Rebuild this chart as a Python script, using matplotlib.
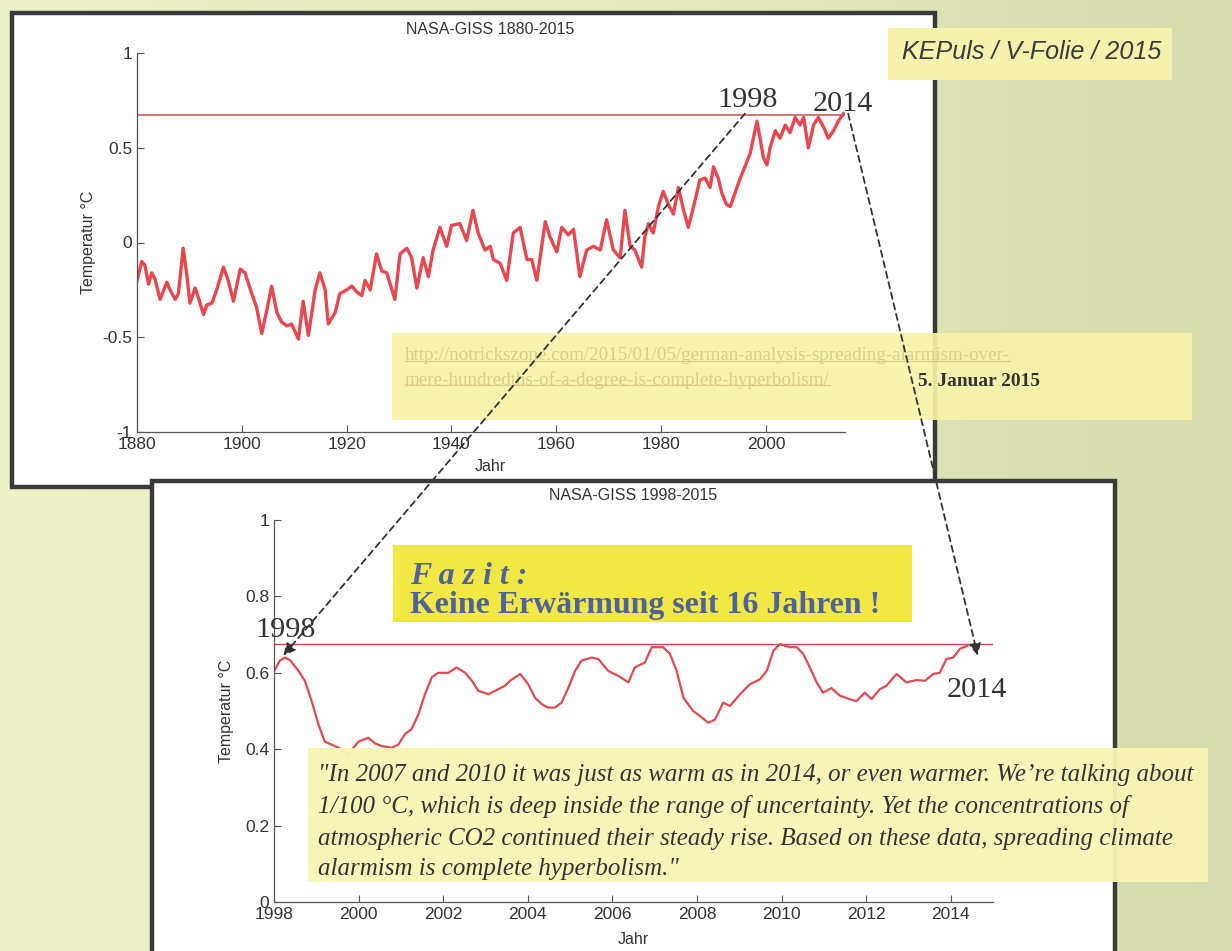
import numpy as np
import matplotlib
matplotlib.use("Agg")
import matplotlib.pyplot as plt
from matplotlib.patches import Rectangle, ConnectionPatch
from matplotlib.lines import Line2D
from matplotlib.colors import LinearSegmentedColormap

W, H, DPI = 1232, 951, 100

# ---------------- data ----------------
years_long = [1880.0, 1880.9, 1881.5, 1882.2, 1882.8, 1883.4, 1884.4, 1885.7, 1886.3, 1887.3,
              1887.9, 1888.8, 1889.5, 1890.1, 1891.1, 1891.7, 1892.7, 1893.3, 1894.3, 1895.2,
              1896.5, 1897.4, 1898.4, 1899.7, 1900.6, 1901.9, 1902.8, 1903.8, 1904.75, 1905.7,
              1906.7, 1907.6, 1908.6, 1909.5, 1910.8, 1911.7, 1912.7, 1914.0, 1914.9, 1915.9,
              1916.5, 1917.8, 1918.7, 1920.0, 1921.0, 1921.9, 1922.9, 1923.5, 1924.5, 1925.7,
              1926.7, 1927.65, 1929.2, 1930.2, 1931.5, 1932.4, 1933.4, 1934.6, 1935.6, 1936.5,
              1937.8, 1939.1, 1940.0, 1941.6, 1942.9, 1944.1, 1945.1, 1946.4, 1947.4, 1948.0,
              1949.3, 1950.55, 1951.8, 1953.1, 1954.4, 1955.3, 1956.3, 1957.9, 1958.8, 1960.1,
              1961.05, 1962.3, 1963.3, 1964.5, 1965.8, 1967.1, 1968.4, 1969.6, 1970.9, 1972.2,
              1973.1, 1974.1, 1975.0, 1976.3, 1976.9, 1977.6, 1978.5, 1979.5, 1980.4, 1981.4,
              1982.35, 1983.3, 1984.3, 1985.2, 1986.2, 1987.4, 1988.4, 1989.35, 1990.0, 1990.9,
              1991.6, 1992.5, 1993.2, 1994.1, 1995.1, 1996.0, 1997.0, 1998.3, 1998.9, 1999.5,
              2000.2, 2000.8, 2001.8, 2002.7, 2003.7, 2004.6, 2005.6, 2006.5, 2007.2, 2008.1,
              2009.1, 2010.0, 2011.0, 2011.9, 2012.9, 2013.8, 2014.8]
temp_long = [-0.20, -0.10, -0.12, -0.22, -0.16, -0.19, -0.30, -0.21, -0.25, -0.30,
             -0.27, -0.03, -0.17, -0.32, -0.24, -0.29, -0.38, -0.33, -0.32, -0.25,
             -0.13, -0.20, -0.31, -0.14, -0.16, -0.27, -0.34, -0.48, -0.36, -0.23,
             -0.37, -0.42, -0.44, -0.43, -0.51, -0.31, -0.49, -0.25, -0.16, -0.25,
             -0.43, -0.37, -0.27, -0.25, -0.23, -0.26, -0.28, -0.20, -0.25, -0.06,
             -0.15, -0.16, -0.30, -0.06, -0.03, -0.08, -0.24, -0.08, -0.18, -0.04,
             0.08, -0.02, 0.09, 0.10, 0.01, 0.17, 0.05, -0.04, -0.02, -0.09,
             -0.11, -0.20, 0.05, 0.08, -0.09, -0.09, -0.20, 0.11, 0.03, -0.05,
             0.08, 0.04, 0.07, -0.18, -0.04, -0.02, -0.04, 0.12, -0.04, -0.08,
             0.17, -0.02, -0.04, -0.13, 0.03, 0.10, 0.05, 0.19, 0.27, 0.20,
             0.15, 0.29, 0.17, 0.08, 0.19, 0.33, 0.34, 0.29, 0.40, 0.34,
             0.26, 0.20, 0.19, 0.26, 0.34, 0.40, 0.47, 0.64, 0.55, 0.45,
             0.41, 0.50, 0.59, 0.55, 0.62, 0.58, 0.66, 0.62, 0.66, 0.50,
             0.62, 0.66, 0.61, 0.55, 0.59, 0.64, 0.68]

years_short = [1998.0, 1998.14, 1998.26, 1998.38, 1998.58, 1998.73, 1998.89, 1999.05, 1999.2, 1999.44,
               1999.6, 1999.75, 1999.85, 2000.0, 2000.23, 2000.39, 2000.55, 2000.78, 2000.94, 2001.1,
               2001.25, 2001.41, 2001.57, 2001.73, 2001.88, 2002.12, 2002.32, 2002.52, 2002.68, 2002.83,
               2003.07, 2003.3, 2003.46, 2003.58, 2003.82, 2004.01, 2004.17, 2004.33, 2004.48, 2004.64,
               2004.8, 2004.96, 2005.12, 2005.27, 2005.51, 2005.67, 2005.9, 2006.14, 2006.38, 2006.53,
               2006.77, 2006.93, 2007.2, 2007.36, 2007.52, 2007.68, 2007.91, 2008.07, 2008.27, 2008.43,
               2008.62, 2008.78, 2009.02, 2009.25, 2009.49, 2009.65, 2009.81, 2009.96, 2010.2, 2010.36,
               2010.51, 2010.67, 2010.83, 2010.98, 2011.18, 2011.38, 2011.61, 2011.77, 2011.97, 2012.13,
               2012.32, 2012.48, 2012.72, 2012.95, 2013.19, 2013.39, 2013.59, 2013.74, 2013.9, 2014.06,
               2014.22, 2014.4]
temp_short = [0.605, 0.632, 0.640, 0.633, 0.605, 0.579, 0.526, 0.465, 0.420, 0.408,
              0.400, 0.385, 0.400, 0.420, 0.430, 0.415, 0.408, 0.404, 0.412, 0.440,
              0.452, 0.490, 0.544, 0.588, 0.600, 0.600, 0.614, 0.600, 0.579, 0.553,
              0.544, 0.557, 0.566, 0.579, 0.597, 0.570, 0.535, 0.518, 0.509, 0.509,
              0.522, 0.561, 0.605, 0.632, 0.640, 0.636, 0.605, 0.592, 0.575, 0.614,
              0.627, 0.667, 0.667, 0.650, 0.605, 0.535, 0.500, 0.487, 0.469, 0.478,
              0.522, 0.513, 0.544, 0.570, 0.583, 0.605, 0.658, 0.675, 0.667, 0.667,
              0.650, 0.614, 0.575, 0.548, 0.560, 0.540, 0.531, 0.526, 0.548, 0.531,
              0.557, 0.566, 0.597, 0.575, 0.581, 0.579, 0.597, 0.600, 0.636, 0.640,
              0.663, 0.671]

ref_level = 0.675

top_xticks = [1880, 1900, 1920, 1940, 1960, 1980, 2000]
top_yticks = [-1, -0.5, 0, 0.5, 1]
top_yticklabels = ["-1", "-0.5", "0", "0.5", "1"]
bot_xticks = [1998, 2000, 2002, 2004, 2006, 2008, 2010, 2012, 2014]
bot_yticks = [0, 0.2, 0.4, 0.6, 0.8, 1]
bot_yticklabels = ["0", "0.2", "0.4", "0.6", "0.8", "1"]

title_top = "NASA-GISS 1880-2015"
title_bot = "NASA-GISS 1998-2015"
ylabel_txt = "Temperatur °C"
xlabel_txt = "Jahr"
source_tag = "KEPuls / V-Folie / 2015"
url_lines = ["http://notrickszone.com/2015/01/05/german-analysis-spreading-alarmism-over-",
             "mere-hundredths-of-a-degree-is-complete-hyperbolism/"]
url_date = "5. Januar 2015"
fazit_head = "F a z i t :"
fazit_text = "Keine Erwärmung seit 16 Jahren !"
quote_lines = ['"In 2007 and 2010 it was just as warm as in 2014, or even warmer. We\u2019re talking about',
               '1/100 °C, which is deep inside the range of uncertainty. Yet the concentrations of',
               'atmospheric CO2 continued their steady rise. Based on these data, spreading climate',
               'alarmism is complete hyperbolism."']
peak_labels = ["1998", "2014"]

# ---------------- figure ----------------
SANS = "Liberation Sans"
SERIF = "Liberation Serif"
plt.rcParams["font.family"] = [SANS, "DejaVu Sans"]

fig = plt.figure(figsize=(W / DPI, H / DPI), dpi=DPI)
renderer = fig.canvas.get_renderer()


def fx(px):
    return px / W


def fy(py):
    return 1 - py / H


def box(x0, y0, x1, y1, **kw):
    r = Rectangle((fx(x0), fy(y1)), fx(x1) - fx(x0), fy(y0) - fy(y1),
                  transform=fig.transFigure, **kw)
    fig.add_artist(r)
    return r


def fit_size(text, width_px, **kw):
    t = fig.text(0, 0, text, fontsize=20, **kw)
    w = t.get_window_extent(renderer).width
    t.remove()
    return 20 * width_px / w


# background (paper)
bg = fig.add_axes([0, 0, 1, 1], zorder=-10)
cmap = LinearSegmentedColormap.from_list("paper", ["#eef1ca", "#e9edc2", "#e1e6b8", "#d6dbae"])
bg.imshow(np.linspace(0, 1, 256)[None, :], cmap=cmap, aspect="auto", extent=[0, 1, 0, 1])
bg.set_axis_off()

# white panels
box(12, 13, 935, 487, facecolor="white", edgecolor="#3a3a3a", lw=3.2, zorder=-5)
box(152, 481, 1115, 1000, facecolor="white", edgecolor="#3a3a3a", lw=3.2, zorder=-4)


def style_axes(ax, xticks, yticks, yticklabels):
    ax.set_facecolor("none")
    for s in ("top", "right"):
        ax.spines[s].set_visible(False)
    for s in ("left", "bottom"):
        ax.spines[s].set_color("#555555")
        ax.spines[s].set_linewidth(0.9)
    ax.set_xticks(xticks, [str(v) for v in xticks])
    ax.set_yticks(yticks, yticklabels)
    ax.tick_params(direction="in", length=5, width=0.8, color="#555555",
                   labelcolor="#333333", labelsize=12.5, pad=3.5)


# top axes
ax1 = fig.add_axes([fx(137), fy(432), fx(844.5) - fx(137), fy(53) - fy(432)])
ax1.plot(years_long, temp_long, color="#e8474f", lw=2.4, solid_joinstyle="round")
ax1.axhline(ref_level, color="#cf4a52", lw=1.1)
ax1.set_xlim(1880, 2015)
ax1.set_ylim(-1, 1)
style_axes(ax1, top_xticks, top_yticks, top_yticklabels)
ax1.set_ylabel(ylabel_txt, fontsize=11.5, color="#333333", va="center")
ax1.yaxis.set_label_coords((88 - 137) / (844.5 - 137), 0.5)
ax1.set_xlabel(xlabel_txt, fontsize=11.5, color="#333333", va="center")
ax1.xaxis.set_label_coords(0.5, -(466 - 432) / (432 - 53))
fig.text(fx(490), fy(30), title_top, fontsize=11.5, color="#333333", ha="center", va="center")

# bottom axes
ax2 = fig.add_axes([fx(274), fy(902), fx(993) - fx(274), fy(520) - fy(902)])
ax2.plot(years_short, temp_short, color="#e04a4f", lw=1.6, solid_joinstyle="round")
ax2.axhline(ref_level, color="#cf4a52", lw=1.0)
ax2.set_xlim(1998, 2015)
ax2.set_ylim(0, 1)
style_axes(ax2, bot_xticks, bot_yticks, bot_yticklabels)
ax2.set_ylabel(ylabel_txt, fontsize=11.5, color="#333333", va="center")
ax2.yaxis.set_label_coords((227 - 274) / (993 - 274), 0.5)
ax2.set_xlabel(xlabel_txt, fontsize=11.5, color="#333333", va="center")
ax2.xaxis.set_label_coords(0.5, -(940 - 902) / (902 - 520))
fig.text(fx(633), fy(496), title_bot, fontsize=11.5, color="#333333", ha="center", va="center")

# source tag
box(888, 28, 1172, 80, facecolor="#f5f2ad", edgecolor="none", zorder=2)
s = fit_size(source_tag, 259, family=SANS, style="italic")
fig.text(fx(1032), fy(52), source_tag, fontsize=s, family=SANS, style="italic",
         color="#3a3a3a", ha="center", va="center", zorder=3)

# URL box
box(392, 333, 1192, 420, facecolor="#f7f4aa", edgecolor="none", alpha=0.92, zorder=2)
s_url = fit_size(url_lines[0], 607, family=SERIF)
for line, yy in zip(url_lines, (356, 380)):
    t = fig.text(fx(405), fy(yy), line, fontsize=s_url, family=SERIF, color="#d8ce88",
                 ha="left", va="center", zorder=3)
    bb = t.get_window_extent(renderer)
    uy = bb.y0 + 0.2 * bb.height
    fig.add_artist(Line2D([bb.x0 / W, bb.x1 / W], [uy / H, uy / H], transform=fig.transFigure,
                          color="#d8ce88", lw=0.9, zorder=3))
s_date = fit_size(url_date, 122, family=SERIF, weight="bold")
fig.text(fx(918), fy(381), url_date, fontsize=s_date, family=SERIF, weight="bold",
         color="#333333", ha="left", va="center", zorder=3)

# Fazit box
box(393, 545, 912, 622, facecolor="#f2e845", edgecolor="none", zorder=2)
s_f = fit_size(fazit_text, 470, family=SERIF, weight="bold")
fig.text(fx(410), fy(577), fazit_head, fontsize=s_f, family=SERIF, weight="bold", style="italic",
         color="#4d6399", ha="left", va="center", zorder=3)
fig.text(fx(410), fy(606), fazit_text, fontsize=s_f, family=SERIF, weight="bold",
         color="#4d6399", ha="left", va="center", zorder=3)

# quote box
box(308, 748, 1208, 882, facecolor="#f8f5b6", edgecolor="none", alpha=0.96, zorder=2)
s_q = fit_size(quote_lines[0], 877, family=SERIF, style="italic")
for line, yy in zip(quote_lines, (775, 807, 839, 869)):
    fig.text(fx(318), fy(yy), line, fontsize=s_q, family=SERIF, style="italic",
             color="#333333", ha="left", va="center", zorder=3)

# peak labels
s_p = fit_size("1998", 60, family=SERIF)
fig.text(fx(748), fy(100), peak_labels[0], fontsize=s_p, family=SERIF, color="#333333",
         ha="center", va="center", zorder=4)
fig.text(fx(843), fy(104), peak_labels[1], fontsize=s_p, family=SERIF, color="#333333",
         ha="center", va="center", zorder=4)
fig.text(fx(285), fy(630), peak_labels[0], fontsize=s_p, family=SERIF, color="#333333",
         ha="center", va="center", zorder=4)
fig.text(fx(977), fy(690), peak_labels[1], fontsize=s_p, family=SERIF, color="#333333",
         ha="center", va="center", zorder=4)

# dashed zoom arrows linking the panels
for (xa, ya), (xb, yb) in (((1996.0, 0.68), (1998.22, 0.645)),
                           ((2015.7, 0.68), (2014.64, 0.645))):
    con = ConnectionPatch(xyA=(xa, ya), coordsA=ax1.transData,
                          xyB=(xb, yb), coordsB=ax2.transData,
                          arrowstyle="-|>", mutation_scale=18, shrinkA=0, shrinkB=0,
                          linestyle=(0, (3.5, 2.5)), lw=1.3, color="#333333", zorder=6)
    fig.add_artist(con)

fig.savefig("out.png", dpi=DPI)
